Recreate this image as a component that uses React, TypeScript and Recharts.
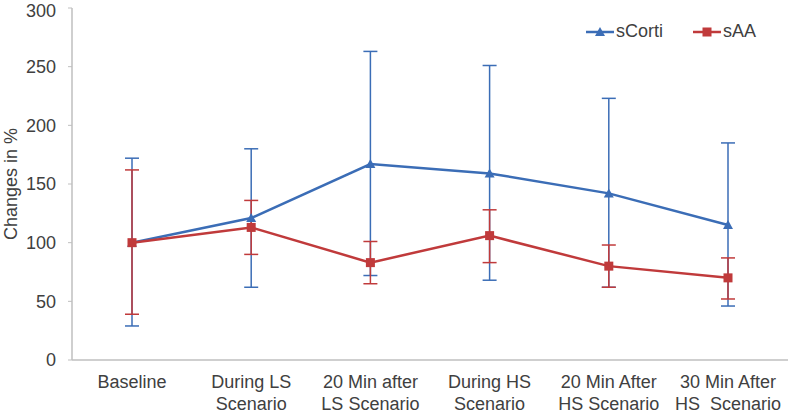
import { LineChart, Line, XAxis, YAxis, ErrorBar, Legend } from "recharts";

const categories = [
  ["Baseline"],
  ["During LS", "Scenario"],
  ["20 Min after", "LS Scenario"],
  ["During HS", "Scenario"],
  ["20 Min After", "HS Scenario"],
  ["30 Min After", "HS  Scenario"],
];

const sCorti = [100, 121, 167, 159, 142, 115];
const sCortiLow = [29, 62, 72, 68, 62, 46];
const sCortiHigh = [172, 180, 263, 251, 223, 185];

const sAA = [100, 113, 83, 106, 80, 70];
const sAALow = [39, 90, 65, 83, 62, 52];
const sAAHigh = [162, 136, 101, 128, 98, 87];

const yTicks = [0, 50, 100, 150, 200, 250, 300];

const BLUE = "#3b6db6";
const RED = "#c03a3b";
const TEXT = "#404040";
const AXIS = "#bfbfbf";
const FONT = "'Liberation Sans', Arial, sans-serif";

const data = categories.map((c, i) => ({
  name: c.join(" "),
  sCorti: sCorti[i],
  errCorti: [sCorti[i] - sCortiLow[i], sCortiHigh[i] - sCorti[i]],
  sAA: sAA[i],
  errAA: [sAA[i] - sAALow[i], sAAHigh[i] - sAA[i]],
}));

// two-line category labels
function XTick(props: any) {
  const { x, index } = props;
  const lines = categories[index] || [];
  return (
    <text x={x} y={388} textAnchor="middle" fill={TEXT} fontSize={18} fontFamily={FONT}>
      {lines.map((l, i) => (
        <tspan key={i} x={x} y={388 + i * 22} style={{ whiteSpace: "pre" }}>
          {l}
        </tspan>
      ))}
    </text>
  );
}

function Triangle(props: any) {
  const { cx, cy } = props;
  if (cx == null || cy == null) return null;
  return <path d={`M${cx},${cy - 5} L${cx + 5},${cy + 4} L${cx - 5},${cy + 4} Z`} fill={BLUE} />;
}

function Square(props: any) {
  const { cx, cy } = props;
  if (cx == null || cy == null) return null;
  return <rect x={cx - 4.5} y={cy - 4.5} width={9} height={9} fill={RED} />;
}

function LegendItem({ color, label, square }: { color: string; label: string; square?: boolean }) {
  return (
    <span style={{ display: "inline-flex", alignItems: "center", marginLeft: 30 }}>
      <svg width={28} height={12}>
        <line x1={0} y1={6} x2={28} y2={6} stroke={color} strokeWidth={2.5} />
        {square ? (
          <rect x={9.5} y={1.5} width={9} height={9} fill={color} />
        ) : (
          <path d="M14,1 L19,10 L9,10 Z" fill={color} />
        )}
      </svg>
      <span style={{ marginLeft: 2 }}>{label}</span>
    </span>
  );
}

function LegendContent() {
  return (
    <div style={{ fontFamily: FONT, fontSize: 18, color: TEXT, display: "flex" }}>
      <LegendItem color={BLUE} label="sCorti" />
      <LegendItem color={RED} label="sAA" square />
    </div>
  );
}

export default function App() {
  return (
    <div style={{ position: "absolute", left: 0, top: 0, background: "#fff" }}>
      <LineChart width={791} height={419} data={data} margin={{ top: 8, right: 3, bottom: 0, left: 0 }}>
        <XAxis
          dataKey="name"
          padding={{ left: 60, right: 60 }}
          axisLine={{ stroke: AXIS, strokeWidth: 1.5 }}
          tickLine={false}
          tick={<XTick />}
          height={59}
          interval={0}
        />
        <YAxis
          domain={[0, 300]}
          ticks={yTicks}
          width={72}
          axisLine={{ stroke: AXIS, strokeWidth: 1.5 }}
          tickLine={{ stroke: AXIS }}
          tickSize={4}
          tickMargin={12}
          tick={{ fill: TEXT, fontSize: 18, fontFamily: FONT }}
          label={{
            content: () => (
              <text
                x={11}
                y={184}
                transform="rotate(-90 11 184)"
                textAnchor="middle"
                dominantBaseline="central"
                fill={TEXT}
                fontSize={18}
                fontFamily={FONT}
              >
                Changes in %
              </text>
            ),
          }}
        />
        <Legend
          layout="horizontal"
          verticalAlign="middle"
          align="center"
          content={<LegendContent />}
          wrapperStyle={{ top: 21, right: 35, left: "auto", width: "auto" }}
        />
        <Line
          type="linear"
          dataKey="sCorti"
          stroke={BLUE}
          strokeWidth={2.5}
          dot={<Triangle />}
          activeDot={false}
          isAnimationActive={false}
        >
          <ErrorBar dataKey="errCorti" width={7} stroke={BLUE} strokeWidth={1.5} direction="y" />
        </Line>
        <Line
          type="linear"
          dataKey="sAA"
          stroke={RED}
          strokeWidth={2.5}
          dot={<Square />}
          activeDot={false}
          isAnimationActive={false}
        >
          <ErrorBar dataKey="errAA" width={7} stroke={RED} strokeWidth={1.5} direction="y" />
        </Line>
      </LineChart>
    </div>
  );
}
